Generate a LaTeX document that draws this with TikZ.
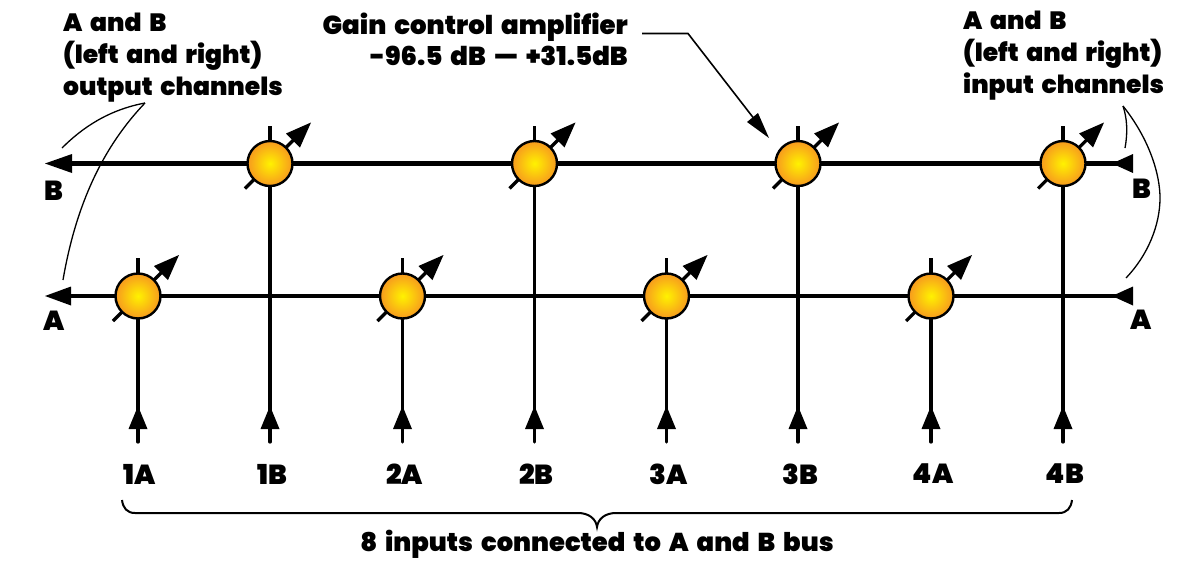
\documentclass[tikz,border=0pt]{standalone}
\usepackage{fontspec}
\setmainfont{Poppins}[BoldFont={* Black},WordSpace=1.8]
\usetikzlibrary{calc}
\definecolor{ampout}{HTML}{F79A1E}
\definecolor{ampin}{HTML}{FFF200}
\tikzset{
  x=1pt,y=-1pt,
  amp/.style={circle,draw=black,line width=2.4pt,minimum size=45pt,inner sep=0pt,inner color=ampin,outer color=ampout},
  lbl/.style={font=\bfseries\fontsize{25}{32}\selectfont,inner sep=0pt},
  tag/.style={font=\bfseries\fontsize{27.5}{32}\selectfont,inner sep=0pt},
  multi/.style={lbl,align=left,anchor=north west},
  sig/.style={line width=3.2pt},
  bus/.style={line width=4.6pt},
  thin leader/.style={line width=1.3pt},
}
\newcommand{\ampnode}[3]{%
  \draw[sig] (#1,#2+26) -- (#1,#2-38);
  \draw[line width=3.2pt] (#1-25,#2+25) -- (#1+25,#2-25);
  \fill (#1+41,#2-41) -- (#1+16,#2-30) -- (#1+30,#2-16) -- cycle;
  \node[amp] (#3) at (#1,#2) {};
}
\begin{document}
\begin{tikzpicture}
\useasboundingbox (0,0) rectangle (1195,560);
\coordinate (bL) at (60,163.5); \coordinate (bR) at (1125,163.5);
\coordinate (aL) at (60,296); \coordinate (aR) at (1125,296);
\draw[bus] (bL) -- (bR);
\draw[bus] (aL) -- (aR);
\fill (45,163.5) -- (72,154) -- (72,173) -- cycle;
\fill (45,296) -- (71,286.5) -- (71,305.5) -- cycle;
\fill (1112,163.5) -- (1133,154) -- (1133,173) -- cycle;
\fill (1112,296) -- (1133,286.5) -- (1133,305.5) -- cycle;
\foreach \n/\x/\y/\t in {a1/138/296/1A,b1/270/163.5/1B,a2/402.5/296/2A,b2/534.5/163.5/2B,a3/666.5/296/3A,b3/798/163.5/3B,a4/931/296/4A,b4/1063/163.5/4B}{
  \ampnode{\x}{\y}{\n}
  \coordinate (in\n) at (\x,442);
  \draw[sig,line cap=round] (in\n) -- (\n);
  \fill (\x,406) -- (\x+9.5,429) -- (\x-9.5,429) -- cycle;
  \node[tag] (lab\n) at (\x+2,474) {\t};
}
\node[tag] (lB) at (54,191) {B};
\node[tag] (lA) at (54,321) {A};
\node[tag] (rB) at (1142,189) {B};
\node[tag] (rA) at (1141,320) {A};
\node[multi] (outcap) at (63,13) {A and B\\(left and right)\\output channels};
\node[multi] (incap) at (963,11) {A and B\\(left and right)\\input channels};
\node[lbl,font=\bfseries\fontsize{26}{31}\selectfont,align=right,anchor=north east] (gaincap) at (628,13) {Gain control amplifier\\-96.5 dB — +31.5dB};
\coordinate (o0) at (145,103); \coordinate (o1) at (62,148); \coordinate (o2) at (63,280);
\draw[thin leader] (o0) .. controls (108,110) and (82,128) .. (o1);
\draw[thin leader] (o0) .. controls (100,150) and (75,210) .. (o2);
\coordinate (i0) at (1123,106); \coordinate (i1) at (1125,148); \coordinate (i2) at (1126,278);
\draw[thin leader] (i0) .. controls (1127,118) and (1128,132) .. (i1);
\draw[thin leader] (i0) .. controls (1150,140) and (1160,175) .. (1160,198) .. controls (1160,225) and (1148,255) .. (i2);
\coordinate (g0) at (642,33.5); \coordinate (g1) at (688,33.5); \coordinate (g2) at (762,129);
\coordinate (gt) at (769,138);
\draw[line width=1.6pt] (g0) -- (g1) -- (g2);
\fill (gt) -- (747,122) -- (758,113) -- cycle;
\coordinate (br0) at (122,500); \coordinate (br1) at (1072,500); \coordinate (brm) at (597,527);
\draw[line width=2pt] (br0) .. controls (123,508) and (127,513) .. (135,513) -- (578,513) .. controls (589,513) and (596,519) .. (brm) .. controls (598,519) and (605,513) .. (616,513) -- (1059,513) .. controls (1067,513) and (1071,508) .. (br1);
\node[lbl,font=\bfseries\fontsize{25.8}{32}\selectfont] (bracecap) at (597,544) {8 inputs connected to A and B bus};
\end{tikzpicture}
\end{document}
